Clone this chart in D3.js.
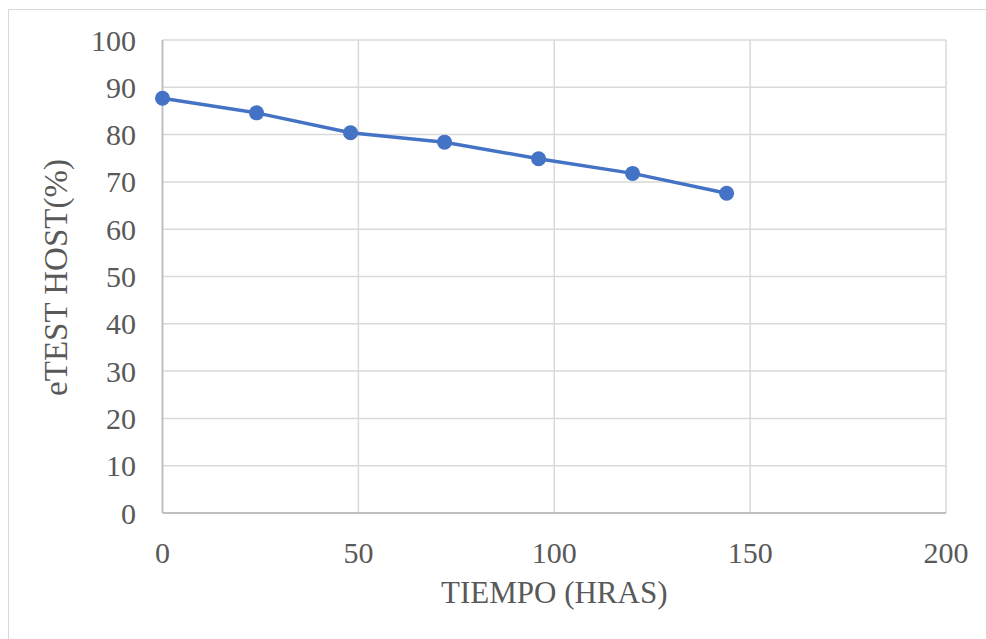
<!DOCTYPE html>
<html>
<head>
<meta charset="utf-8">
<script src="https://cdn.jsdelivr.net/npm/d3@7"></script>
<style>
  html, body { margin: 0; padding: 0; background: #fff; }
  svg { display: block; }
</style>
</head>
<body>
<svg id="chart" width="986" height="639"></svg>
<script>
const hours = [0, 24, 48, 72, 96, 120, 144];
const etestHost = [87.7, 84.6, 80.4, 78.4, 74.9, 71.8, 67.6];
const xTicks = [0, 50, 100, 150, 200];
const yTicks = [0, 10, 20, 30, 40, 50, 60, 70, 80, 90, 100];
const xTitle = "TIEMPO (HRAS)";
const yTitle = "eTEST HOST(%)";

const FONT = "'Liberation Serif', 'Times New Roman', serif";
const svg = d3.select("#chart");
const plotL = 162.5, plotR = 946, plotT = 40, plotB = 513;

// chart border
svg.append("rect").attr("x", 8.5).attr("y", 9.5).attr("width", 1000).attr("height", 700)
  .attr("fill", "none").attr("stroke", "#d9d9d9").attr("stroke-width", 1);

const x = d3.scaleLinear().domain([0, 200]).range([plotL, plotR]);
const y = d3.scaleLinear().domain([0, 100]).range([plotB, plotT]);

// gridlines
svg.append("g").selectAll("line").data(yTicks.filter(d => d > 0)).join("line")
  .attr("x1", plotL).attr("x2", plotR)
  .attr("y1", d => y(d)).attr("y2", d => y(d))
  .attr("stroke", "#d9d9d9").attr("stroke-width", 1.5);
svg.append("g").selectAll("line").data(xTicks.filter(d => d > 0)).join("line")
  .attr("x1", d => x(d)).attr("x2", d => x(d))
  .attr("y1", plotT).attr("y2", plotB)
  .attr("stroke", "#d9d9d9").attr("stroke-width", 1.5);

// axes lines
svg.append("line").attr("x1", plotL).attr("x2", plotL).attr("y1", plotT).attr("y2", plotB)
  .attr("stroke", "#bfbfbf").attr("stroke-width", 2);
svg.append("line").attr("x1", plotL).attr("x2", plotR).attr("y1", plotB).attr("y2", plotB)
  .attr("stroke", "#bfbfbf").attr("stroke-width", 2);

// y tick labels
svg.append("g").selectAll("text").data(yTicks).join("text")
  .attr("x", 136).attr("y", d => y(d)).attr("dy", "0.35em")
  .attr("text-anchor", "end").attr("font-size", 30)
  .attr("font-family", FONT).attr("fill", "#595959")
  .text(d => d);

// x tick labels
svg.append("g").selectAll("text").data(xTicks).join("text")
  .attr("x", d => x(d)).attr("y", 563)
  .attr("text-anchor", "middle").attr("font-size", 30)
  .attr("font-family", FONT).attr("fill", "#595959")
  .text(d => d);

// titles
svg.append("text").attr("x", (plotL + plotR) / 2).attr("y", 603)
  .attr("text-anchor", "middle").attr("font-size", 31)
  .attr("font-family", FONT).attr("fill", "#595959").text(xTitle);
svg.append("text").attr("transform", `translate(67,${(plotT + plotB) / 2 + 1}) rotate(-90)`)
  .attr("text-anchor", "middle").attr("font-size", 33)
  .attr("font-family", FONT).attr("fill", "#595959").text(yTitle);

// series
const data = hours.map((h, i) => ({ h, v: etestHost[i] }));
svg.append("path").datum(data)
  .attr("fill", "none").attr("stroke", "#4472C4").attr("stroke-width", 3.5)
  .attr("stroke-linejoin", "round")
  .attr("d", d3.line().x(d => x(d.h)).y(d => y(d.v)));
svg.append("g").selectAll("circle").data(data).join("circle")
  .attr("cx", d => x(d.h)).attr("cy", d => y(d.v)).attr("r", 7.5)
  .attr("fill", "#4472C4");
</script>
</body>
</html>
